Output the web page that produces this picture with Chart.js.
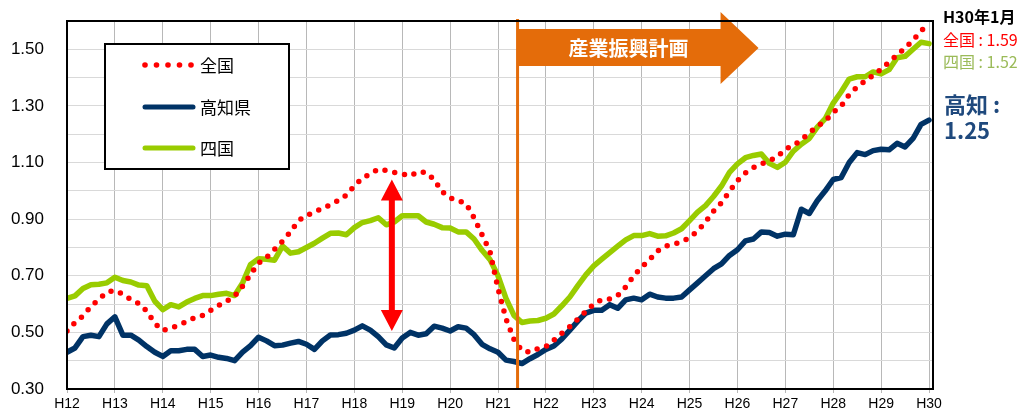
<!DOCTYPE html>
<html lang="ja">
<head>
<meta charset="utf-8">
<title>有効求人倍率の推移</title>
<script src="https://cdn.jsdelivr.net/npm/chart.js@4.4.1/dist/chart.umd.min.js"></script>
<style>
  html, body { margin: 0; padding: 0; background: #fff; }
  #wrap { width: 1026px; height: 414px; }
</style>
</head>
<body>
<div id="wrap"><canvas id="chart" width="1026" height="414"></canvas></div>
<script>
// 年の目盛り（H12〜H30、各年1月）
const yearLabels = ['H12', 'H13', 'H14', 'H15', 'H16', 'H17', 'H18', 'H19', 'H20', 'H21',
                    'H22', 'H23', 'H24', 'H25', 'H26', 'H27', 'H28', 'H29', 'H30'];
const STEP_MONTHS = 2; // 2か月ごとの読み取り値

// 全国
const zenkoku = [
  0.505, 0.535, 0.558, 0.592, 0.617, 0.642, 0.648, 0.635, 0.616, 0.602,
  0.575, 0.532, 0.507, 0.515, 0.526, 0.538, 0.552, 0.560, 0.578, 0.595,
  0.610, 0.628, 0.663, 0.705, 0.745, 0.765, 0.793, 0.822, 0.855, 0.895,
  0.913, 0.925, 0.938, 0.951, 0.966, 0.985, 1.018, 1.045, 1.060, 1.077,
  1.072, 1.065, 1.060, 1.053, 1.068, 1.065, 1.040, 0.997, 0.975, 0.966,
  0.955, 0.905, 0.845, 0.785, 0.655, 0.548, 0.475, 0.435, 0.430, 0.443,
  0.450, 0.473, 0.497, 0.520, 0.547, 0.574, 0.600, 0.616, 0.618, 0.630,
  0.660, 0.700, 0.730, 0.757, 0.788, 0.805, 0.812, 0.820, 0.835, 0.858,
  0.890, 0.928, 0.958, 0.998, 1.036, 1.063, 1.082, 1.095, 1.107, 1.120,
  1.148, 1.160, 1.180, 1.205, 1.228, 1.247, 1.277, 1.300, 1.340, 1.367,
  1.388, 1.408, 1.430, 1.455, 1.480, 1.505, 1.532, 1.565, 1.590
];

// 高知県
const kochi = [
  0.430, 0.445, 0.485, 0.490, 0.485, 0.530, 0.555, 0.490, 0.490, 0.473,
  0.450, 0.430, 0.415, 0.435, 0.435, 0.440, 0.440, 0.415, 0.420, 0.412,
  0.408, 0.400, 0.430, 0.453, 0.483, 0.470, 0.453, 0.455, 0.462, 0.468,
  0.458, 0.440, 0.470, 0.491, 0.492, 0.497, 0.508, 0.523, 0.508, 0.485,
  0.456, 0.445, 0.480, 0.500, 0.490, 0.495, 0.522, 0.515, 0.505, 0.520,
  0.515, 0.492, 0.458, 0.442, 0.430, 0.402, 0.397, 0.390, 0.407, 0.422,
  0.440, 0.452, 0.477, 0.508, 0.540, 0.568, 0.578, 0.578, 0.598, 0.585,
  0.615, 0.621, 0.615, 0.635, 0.625, 0.621, 0.621, 0.625, 0.650, 0.675,
  0.700, 0.725, 0.742, 0.772, 0.792, 0.823, 0.830, 0.855, 0.853, 0.840,
  0.847, 0.845, 0.935, 0.920, 0.965, 1.000, 1.040, 1.047, 1.100, 1.135,
  1.128, 1.142, 1.147, 1.145, 1.168, 1.155, 1.185, 1.235, 1.250
];

// 四国
const shikoku = [
  0.620, 0.629, 0.655, 0.668, 0.670, 0.675, 0.695, 0.683, 0.678, 0.667,
  0.665, 0.610, 0.580, 0.598, 0.590, 0.607, 0.620, 0.630, 0.630, 0.635,
  0.638, 0.630, 0.675, 0.740, 0.760, 0.758, 0.755, 0.805, 0.780, 0.785,
  0.800, 0.815, 0.833, 0.850, 0.851, 0.845, 0.870, 0.888, 0.895, 0.905,
  0.880, 0.890, 0.912, 0.912, 0.912, 0.890, 0.882, 0.870, 0.869, 0.855,
  0.855, 0.830, 0.790, 0.757, 0.700, 0.620, 0.560, 0.535, 0.540, 0.542,
  0.550, 0.565, 0.594, 0.625, 0.665, 0.703, 0.735, 0.759, 0.782, 0.805,
  0.827, 0.842, 0.842, 0.849, 0.840, 0.841, 0.851, 0.866, 0.895, 0.925,
  0.948, 0.980, 1.017, 1.065, 1.095, 1.117, 1.125, 1.130, 1.097, 1.083,
  1.101, 1.140, 1.165, 1.185, 1.225, 1.255, 1.310, 1.350, 1.395, 1.403,
  1.403, 1.420, 1.413, 1.428, 1.470, 1.475, 1.500, 1.525, 1.520
];

const seriesNames = ['全国', '高知県', '四国'];
const latestTitle = 'H30年1月';
const latestZenkoku = '全国 : 1.59';
const latestShikoku = '四国 : 1.52';
const latestKochiLabel = '高知 :';
const latestKochiValue = '1.25';
const planLabel = '産業振興計画';
const planStartMonth = 112.9;   // H21年度 計画開始
const gapArrowMonth = 81.4;     // 全国と高知の差の矢印
const gapArrowTop = 1.04;
const gapArrowBottom = 0.505;

const RED = '#FF0000';
const NAVY = '#003366';
const GREEN = '#99CC00';
const ORANGE = '#E46C0A';

const toPoints = arr => arr.map((v, i) => ({ x: i * STEP_MONTHS, y: v }));

// 注記・凡例・枠線を描くプラグイン
const decorations = {
    id: 'decorations',
    afterDatasetsDraw(chart) {
        const { ctx, chartArea: a, scales: { x, y } } = chart;
        ctx.save();

        // 産業振興計画の開始線
        const px = x.getPixelForValue(planStartMonth);
        ctx.strokeStyle = ORANGE;
        ctx.lineWidth = 3;
        ctx.beginPath();
        ctx.moveTo(px, a.top - 2);
        ctx.lineTo(px, a.bottom);
        ctx.stroke();

        // オレンジの矢印
        ctx.fillStyle = ORANGE;
        ctx.beginPath();
        ctx.moveTo(px, 29);
        ctx.lineTo(px + 203, 29);
        ctx.lineTo(px + 203, 12);
        ctx.lineTo(px + 241, 48);
        ctx.lineTo(px + 203, 84);
        ctx.lineTo(px + 203, 66);
        ctx.lineTo(px, 66);
        ctx.closePath();
        ctx.fill();
        ctx.fillStyle = '#fff';
        ctx.font = 'bold 20px "Noto Sans CJK JP"';
        ctx.textAlign = 'center';
        ctx.textBaseline = 'middle';
        ctx.fillText(planLabel, px + 111, 48);

        // 赤の両矢印
        const cx = x.getPixelForValue(gapArrowMonth);
        const top = y.getPixelForValue(gapArrowTop);
        const bot = y.getPixelForValue(gapArrowBottom);
        const hw = 11, sw = 3, hl = 21;
        ctx.fillStyle = RED;
        ctx.beginPath();
        ctx.moveTo(cx, top);
        ctx.lineTo(cx + hw, top + hl);
        ctx.lineTo(cx + sw, top + hl);
        ctx.lineTo(cx + sw, bot - hl);
        ctx.lineTo(cx + hw, bot - hl);
        ctx.lineTo(cx, bot);
        ctx.lineTo(cx - hw, bot - hl);
        ctx.lineTo(cx - sw, bot - hl);
        ctx.lineTo(cx - sw, top + hl);
        ctx.lineTo(cx - hw, top + hl);
        ctx.closePath();
        ctx.fill();
        ctx.restore();
    },
    afterDraw(chart) {
        const { ctx, chartArea: a } = chart;
        ctx.save();

        // プロットエリアの枠
        ctx.strokeStyle = '#000';
        ctx.lineWidth = 2;
        ctx.strokeRect(a.left, a.top, a.right - a.left, a.bottom - a.top);

        // 凡例
        ctx.fillStyle = '#fff';
        ctx.fillRect(105, 44, 184, 125);
        ctx.strokeRect(105, 44, 184, 125);
        const rows = [65, 107, 148];
        ctx.fillStyle = RED;
        [145, 156.5, 168, 179.5, 191].forEach(dx => {
            ctx.beginPath();
            ctx.arc(dx, rows[0], 2.8, 0, Math.PI * 2);
            ctx.fill();
        });
        ctx.lineCap = 'round';
        ctx.lineWidth = 5;
        ctx.strokeStyle = NAVY;
        ctx.beginPath(); ctx.moveTo(145, rows[1]); ctx.lineTo(193, rows[1]); ctx.stroke();
        ctx.strokeStyle = GREEN;
        ctx.beginPath(); ctx.moveTo(145, rows[2]); ctx.lineTo(193, rows[2]); ctx.stroke();
        ctx.fillStyle = '#000';
        ctx.font = '17px "Noto Sans CJK JP"';
        ctx.textAlign = 'left';
        ctx.textBaseline = 'middle';
        seriesNames.forEach((name, i) => ctx.fillText(name, 200, rows[i] + 1));

        // 右側の最新値
        ctx.font = 'bold 16px "Noto Sans CJK JP"';
        ctx.fillStyle = '#000';
        ctx.fillText(latestTitle, 943, 17);
        ctx.font = '16px "Noto Sans CJK JP"';
        ctx.fillStyle = RED;
        ctx.fillText(latestZenkoku, 943, 40);
        ctx.fillStyle = '#9BBB59';
        ctx.fillText(latestShikoku, 943, 62);
        ctx.font = 'bold 22px "Noto Sans CJK JP"';
        ctx.fillStyle = '#1F497D';
        ctx.fillText(latestKochiLabel, 944, 105);
        ctx.fillText(latestKochiValue, 944, 131);
        ctx.restore();
    }
};

new Chart(document.getElementById('chart'), {
    type: 'line',
    data: {
        datasets: [
            {
                label: seriesNames[0],
                data: toPoints(zenkoku),
                borderColor: RED,
                borderWidth: 5.5,
                borderDash: [0, 10],
                borderCapStyle: 'round',
                pointRadius: 0,
                tension: 0
            },
            {
                label: seriesNames[1],
                data: toPoints(kochi),
                borderColor: NAVY,
                borderWidth: 5.5,
                borderJoinStyle: 'round',
                borderCapStyle: 'round',
                pointRadius: 0,
                tension: 0
            },
            {
                label: seriesNames[2],
                data: toPoints(shikoku),
                borderColor: GREEN,
                borderWidth: 5.5,
                borderJoinStyle: 'round',
                borderCapStyle: 'round',
                pointRadius: 0,
                tension: 0
            }
        ]
    },
    options: {
        responsive: false,
        devicePixelRatio: 1,
        animation: false,
        layout: { padding: { top: 21, right: 93, left: 0, bottom: 0 } },
        plugins: { legend: { display: false }, tooltip: { enabled: false } },
        scales: {
            x: {
                type: 'linear',
                min: 0,
                max: 217,
                afterFit: s => { s.height = 25; s.paddingLeft = 0; s.paddingRight = 0; },
                afterBuildTicks: s => { s.ticks = yearLabels.map((_, i) => ({ value: i * 12 })); },
                grid: { color: '#B8B8B8', lineWidth: 1, drawTicks: true, tickLength: 4 },
                border: { display: false },
                ticks: {
                    autoSkip: false,
                    maxRotation: 0,
                    padding: 3,
                    color: '#000',
                    font: { family: 'Liberation Sans', size: 14 },
                    callback: (v, i) => yearLabels[i]
                }
            },
            y: {
                min: 0.3,
                max: 1.6,
                afterFit: s => { s.width = 67; s.paddingTop = 0; s.paddingBottom = 0; },
                grid: { color: '#D9D9D9', lineWidth: 1, drawTicks: false },
                border: { display: false },
                ticks: {
                    stepSize: 0.1,
                    autoSkip: false,
                    padding: 23,
                    color: '#000',
                    font: { family: 'Liberation Sans', size: 17 },
                    callback: v => {
                        const k = Math.round(v * 10);
                        return k % 2 === 1 ? (k / 10).toFixed(2) : '';
                    }
                }
            }
        }
    },
    plugins: [decorations]
});
</script>
</body>
</html>
